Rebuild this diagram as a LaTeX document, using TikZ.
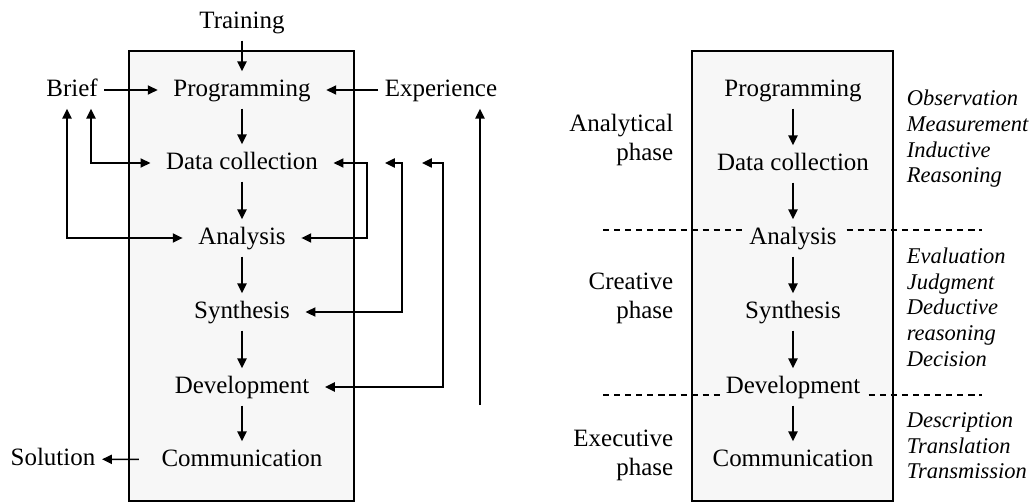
\documentclass[tikz,border=0pt]{standalone}
\usepackage{fontspec}
\setmainfont{Liberation Serif}
\usepackage{tikz}
\usetikzlibrary{arrows.meta}
\definecolor{boxgray}{HTML}{F7F7F7}

\begin{document}
\begin{tikzpicture}[>={Triangle[length=5.6pt,width=5.2pt]}, line width=0.9pt,
    every node/.style={font=\fontsize{14.2}{16.4}\selectfont},
    stage/.style={inner xsep=8.5pt, inner ysep=3.7pt, text height=10pt, text depth=3pt},
    lbl/.style={stage, inner xsep=3.4pt},
    stagefill/.style={stage, inner xsep=3.5pt, fill=boxgray},
    phase/.style={anchor=east, align=right, inner sep=0pt},
    notes/.style={anchor=west, align=left, inner sep=0pt, font=\fontsize{12.8}{14.6}\selectfont\itshape},
    divider/.style={line width=0.8pt, dash pattern=on 3.5pt off 2.8pt}]
            \useasboundingbox (0,0) rectangle (20.7,10.04);

            % Boxes
            \draw[fill=boxgray, line width=1pt] (2.574,0.02) rectangle (7.086,9.02);
            \draw[fill=boxgray, line width=1pt] (13.84,0.02) rectangle (17.86,9.02);
            \draw[divider] (12.06,5.44) -- (19.64,5.44);
            \draw[divider] (12.06,2.14) -- (19.64,2.14);

            % Nodes (left)
            \node[lbl] (Training) at (4.84, 9.6) {Training};
            \node[stage] (Prog) at (4.84, 8.24) {Programming};
            \node[stage] (Data) at (4.84, 6.78) {Data collection};
            \node[stage] (Ana) at (4.84, 5.28) {Analysis};
            \node[stage] (Syn) at (4.84, 3.80) {Synthesis};
            \node[stage] (Dev) at (4.84, 2.30) {Development};
            \node[stage] (Com) at (4.84, 0.84) {Communication};
            \node[lbl] (Brief) at (1.44, 8.24) {Brief};
            \node[lbl] (Exp) at (8.82, 8.24) {Experience};
            \node[lbl] (Sol) at (1.06, 0.86) {Solution};

            \coordinate (rail1) at (7.34, 6.78);
            \coordinate (tip2) at (7.70, 6.78);
            \coordinate (rail2) at (8.04, 6.78);
            \coordinate (tip3) at (8.44, 6.78);
            \coordinate (rail3) at (8.86, 6.78);
            \coordinate (rail4) at (9.60, 1.94);

            % Arrows (left)
            \draw[->] (Training) -- (Prog);
            \draw[->] (Brief) -- (Prog);
            \draw[->] (Exp) -- (Prog);
            \draw[->] (Prog) -- (Data);
            \draw[->] (Data) -- (Ana);
            \draw[->] (Ana) -- (Syn);
            \draw[->] (Syn) -- (Dev);
            \draw[->] (Dev) -- (Com);
            \draw[->, shorten <=4pt] (Com) -- (Sol);

            \draw[<->] ([xshift=0.38cm]Brief.south) |- (Data);
            \draw[<->] ([xshift=-0.1cm]Brief.south) |- (Ana);

            \draw[<->] (Data) -- (rail1) |- (Ana);
            \draw[<->] (tip2) -- (rail2) |- (Syn);
            \draw[<->] (tip3) -- (rail3) |- (Dev);
            \draw[->] (rail4) -- (rail4 |- Exp.south);

            % Nodes (right)
            \node[stagefill] (Prog2) at (15.86, 8.24) {Programming};
            \node[stagefill] (Data2) at (15.86, 6.76) {Data collection};
            \node[stagefill] (Ana2) at (15.86, 5.28) {Analysis};
            \node[stagefill] (Syn2) at (15.86, 3.80) {Synthesis};
            \node[stagefill] (Dev2) at (15.86, 2.30) {Development};
            \node[stagefill] (Com2) at (15.86, 0.84) {Communication};

            \node[phase] (analytical) at (13.48, 7.24) {Analytical\\phase};
            \node[phase] (creative) at (13.48, 4.08) {Creative\\phase};
            \node[phase] (executive) at (13.48, 0.94) {Executive\\phase};

            \node[notes] (inductive) at (18.12, 7.26) {Observation\\Measurement\\Inductive\\Reasoning};
            \node[notes] (deductive) at (18.12, 3.90) {Evaluation\\Judgment\\Deductive\\reasoning\\Decision};
            \node[notes] (transmit) at (18.12, 1.12) {Description\\Translation\\Transmission};

            % Arrows (right)
            \draw[->] (Prog2) -- (Data2);
            \draw[->] (Data2) -- (Ana2);
            \draw[->] (Ana2) -- (Syn2);
            \draw[->] (Syn2) -- (Dev2);
            \draw[->] (Dev2) -- (Com2);
\end{tikzpicture}
\end{document}
